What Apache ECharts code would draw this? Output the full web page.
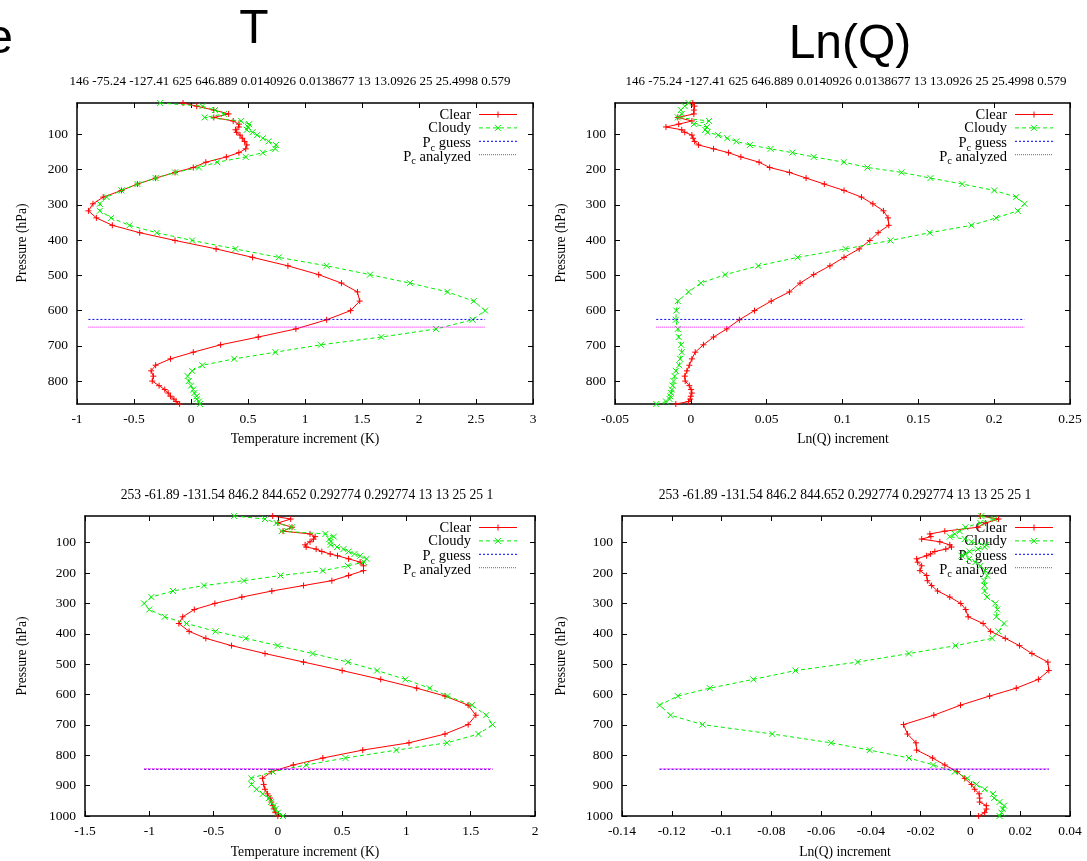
<!DOCTYPE html>
<html>
<head>
<meta charset="utf-8">
<script src="https://cdn.jsdelivr.net/npm/echarts@6/dist/echarts.min.js"></script>
<style>
html, body { margin: 0; padding: 0; background: #fff; }
#chart { width: 1087px; height: 861px; }
</style>
</head>
<body>
<div id="chart"></div>
<script>
// ---- Profile 1 (146, lat -75.24): model levels (hPa) and increments ----
const presTop = [11, 20, 31, 42, 52, 62, 71, 79, 87, 94, 102, 111, 120, 130, 141, 152, 164, 179, 194, 208,
  224, 241, 259, 278, 297, 317, 337, 358, 379, 401, 425, 449, 473, 498, 522, 547, 573, 600, 626, 652,
  675, 697, 718, 737, 755, 771, 786, 800, 813, 824, 834, 843, 851, 858, 865];
const tClearTop = [-0.07, 0.05, 0.20, 0.33, 0.20, 0.37, 0.42, 0.42, 0.39, 0.40, 0.43, 0.45, 0.47, 0.49, 0.48,
  0.42, 0.31, 0.13, 0.02, -0.14, -0.31, -0.47, -0.61, -0.77, -0.86, -0.90, -0.83, -0.69, -0.45, -0.14,
  0.22, 0.54, 0.85, 1.12, 1.32, 1.46, 1.48, 1.40, 1.19, 0.92, 0.59, 0.26, 0.02, -0.18, -0.31,
  -0.35, -0.33, -0.34, -0.28, -0.23, -0.20, -0.18, -0.15, -0.13, -0.10];
const tCloudyTop = [-0.27, 0.10, 0.21, 0.29, 0.12, 0.44, 0.51, 0.50, 0.49, 0.54, 0.58, 0.63, 0.68, 0.745, 0.74,
  0.63, 0.48, 0.23, 0.07, -0.14, -0.31, -0.47, -0.61, -0.74, -0.80, -0.80, -0.70, -0.54, -0.30, 0.01,
  0.39, 0.77, 1.19, 1.57, 1.92, 2.25, 2.48, 2.58, 2.47, 2.15, 1.67, 1.14, 0.74, 0.38, 0.10,
  0.01, -0.03, -0.02, 0.0, 0.02, 0.03, 0.05, 0.05, 0.07, 0.08];
const qClearTop = [0.0013, 0.0024, 0.002, 0.002, -0.0086, 0.0007, -0.008, -0.0164, -0.006, -0.004,
  0.0007, 0.0015, 0.0025, 0.005, 0.015, 0.0248, 0.033, 0.045, 0.052, 0.065,
  0.076, 0.088, 0.101, 0.1125, 0.12, 0.127, 0.130, 0.1305, 0.1235, 0.118,
  0.111, 0.101, 0.0917, 0.081, 0.072, 0.065, 0.053, 0.042, 0.032, 0.0237,
  0.015, 0.0083, 0.0029, 0.0007, -0.001, -0.0026, -0.004, -0.0037, -0.001, 0.0002,
  0.0007, 0.0, -0.0004, -0.0015, -0.0099];
const qCloudyTop = [-0.0015, -0.004, -0.0066, -0.006, -0.0086, 0.012, 0.002, 0.0106, 0.0095, 0.011,
  0.018, 0.024, 0.03, 0.039, 0.0526, 0.067, 0.081, 0.101, 0.1165, 0.139,
  0.158, 0.179, 0.200, 0.2145, 0.220, 0.2156, 0.2013, 0.185, 0.1575, 0.1316,
  0.102, 0.0704, 0.0445, 0.0226, 0.0066, -0.0015, -0.0086, -0.0096, -0.0099, -0.0086,
  -0.008, -0.0064, -0.006, -0.007, -0.0077, -0.0099, -0.0107, -0.0114, -0.012, -0.0125,
  -0.013, -0.0135, -0.014, -0.0164, -0.0228];
const pcGuessTop = 625;
const pcAnalyzedTop = 646.889;

// ---- Profile 2 (253, lat -61.89) ----
const presBot = [12, 22, 35, 49, 62, 71, 80, 88, 97, 107, 114, 121, 129, 137, 143, 153, 164, 176, 192, 208,
  225, 241, 259, 279, 300, 320, 344, 366, 392, 415, 439, 465, 493, 521, 550, 579, 605, 635, 668, 699,
  730, 759, 783, 809, 832, 854, 876, 896, 912, 927, 941, 954, 966, 977, 989, 1000];
const tClearBot = [-0.04, 0.10, 0.0, 0.11, 0.04, 0.25, 0.29, 0.277, 0.25, 0.212, 0.22, 0.298, 0.342, 0.407, 0.464,
  0.55, 0.64, 0.666, 0.666, 0.55, 0.42, 0.2, -0.047, -0.28, -0.49, -0.65, -0.74, -0.77, -0.69, -0.56,
  -0.36, -0.10, 0.20, 0.50, 0.80, 1.08, 1.30, 1.48, 1.54, 1.48, 1.30, 1.02, 0.66, 0.35, 0.12,
  -0.05, -0.12, -0.11, -0.10, -0.08, -0.06, -0.05, -0.04, -0.03, -0.02, 0.0];
const tCloudyBot = [-0.34, -0.10, -0.01, 0.11, 0.03, 0.37, 0.435, 0.40, 0.41, 0.41, 0.46, 0.51, 0.55, 0.596, 0.64,
  0.69, 0.67, 0.544, 0.35, 0.02, -0.264, -0.575, -0.816, -0.984, -1.04, -1.0, -0.88, -0.71, -0.484, -0.25,
  0.0, 0.272, 0.544, 0.772, 0.992, 1.18, 1.32, 1.51, 1.62, 1.67, 1.56, 1.316, 0.922, 0.526, 0.22,
  -0.04, -0.207, -0.205, -0.166, -0.117, -0.07, -0.052, -0.031, -0.018, 0.0, 0.04];
const qClearBot = [0.004, 0.0113, 0.006, 0.003, -0.0103, -0.0163, -0.0159, -0.0196, -0.0123, -0.0083,
  -0.0076, -0.0099, -0.0143, -0.016, -0.0176, -0.0216, -0.0212, -0.0196, -0.0203, -0.0176,
  -0.0173, -0.0156, -0.0132, -0.0083, -0.0039, -0.0019, -0.0009, 0.0051, 0.0081, 0.014,
  0.0197, 0.0247, 0.0311, 0.0315, 0.0273, 0.0184, 0.0077, -0.004, -0.0147, -0.0269,
  -0.0253, -0.0219, -0.0216, -0.0152, -0.0103, -0.0053, -0.0023, 0.0004, 0.0017, 0.0035,
  0.0037, 0.0037, 0.0064, 0.0064, 0.0057, 0.0033];
const qCloudyBot = [0.0044, 0.0097, 0.004, -0.002, -0.0043, -0.0063, -0.0083, -0.0023, 0.0004, 0.0064,
  0.0057, 0.003, -0.0003, -0.002, -0.0036, -0.0005, 0.002, 0.004, 0.006, 0.0067,
  0.0055, 0.0057, 0.0057, 0.0067, 0.010, 0.0108, 0.0104, 0.0135, 0.0113, 0.0087,
  -0.006, -0.0247, -0.0453, -0.0703, -0.0872, -0.1047, -0.1176, -0.1249, -0.1205, -0.1076,
  -0.0796, -0.056, -0.0405, -0.0247, -0.0149, -0.0063, -0.0013, 0.0024, 0.0057, 0.0091,
  0.0095, 0.0117, 0.0135, 0.013, 0.0125, 0.0117];
const pcGuessBot = 846.2;
const pcAnalyzedBot = 844.652;

// ---- Text ----
const headTop = '146 -75.24 -127.41 625 646.889 0.0140926 0.0138677 13 13.0926 25 25.4998 0.579';
const headBot = '253 -61.89 -131.54 846.2 844.652 0.292774 0.292774 13 13 25 25 1';
const yTicksTop = [100, 200, 300, 400, 500, 600, 700, 800];
const yTicksBot = [100, 200, 300, 400, 500, 600, 700, 800, 900, 1000];
const seriesNames = ['Clear', 'Cloudy', 'Pc guess', 'Pc analyzed'];

const SERIF = "'Liberation Serif', 'Times New Roman', serif";
const SANS = "'Liberation Sans', Arial, sans-serif";
const RED = '#ff0000', GREEN = '#00ee00', BLUE = '#0000ff', MAGENTA = '#ff00ff';
const DASH_CLOUDY = [4, 3], DASH_GUESS = [2, 2], DASH_ANALYZED = [1, 1];
const plusPath = 'path://M0 4L8 4M4 0L4 8';
const crossPath = 'path://M0 0L8 8M8 0L0 8';

const panels = [
  { grid: { left: 77, top: 103, width: 456, height: 301 }, pres: presTop, clear: tClearTop, cloudy: tCloudyTop,
    guess: pcGuessTop, analyzed: pcAnalyzedTop, xMin: -1, xMax: 3, xStep: 0.5, yTicks: yTicksTop },
  { grid: { left: 615, top: 103, width: 455, height: 301 }, pres: presTop, clear: qClearTop, cloudy: qCloudyTop,
    guess: pcGuessTop, analyzed: pcAnalyzedTop, xMin: -0.05, xMax: 0.25, xStep: 0.05, yTicks: yTicksTop },
  { grid: { left: 85, top: 516, width: 450, height: 300 }, pres: presBot, clear: tClearBot, cloudy: tCloudyBot,
    guess: pcGuessBot, analyzed: pcAnalyzedBot, xMin: -1.5, xMax: 2, xStep: 0.5, yTicks: yTicksBot },
  { grid: { left: 622, top: 516, width: 448, height: 300 }, pres: presBot, clear: qClearBot, cloudy: qCloudyBot,
    guess: pcGuessBot, analyzed: pcAnalyzedBot, xMin: -0.14, xMax: 0.04, xStep: 0.02, yTicks: yTicksBot }
];

const frameLine = { show: true, onZero: false, lineStyle: { color: '#000', width: 1.5 } };
const tickStyle = { color: '#000', width: 1 };
const labelFont = { color: '#000', fontFamily: SERIF, fontSize: 13.5 };
const plain = v => String(v);

const grids = [], xAxes = [], yAxes = [], series = [];
panels.forEach((p, i) => {
  grids.push(Object.assign({ outerBoundsMode: 'none', containLabel: false }, p.grid));
  ['bottom', 'top'].forEach(pos => xAxes.push({
    gridIndex: i, type: 'value', position: pos, min: p.xMin, max: p.xMax, interval: p.xStep,
    axisLine: frameLine, axisTick: { show: true, inside: true, length: 5, lineStyle: tickStyle },
    axisLabel: Object.assign({ show: pos === 'bottom', margin: 8 }, labelFont),
    splitLine: { show: false }
  }));
  const yMin = Math.min(...p.pres), yMax = Math.max(...p.pres);
  ['left', 'right'].forEach(pos => yAxes.push({
    gridIndex: i, type: 'value', position: pos, inverse: true, min: yMin, max: yMax,
    axisLine: frameLine,
    axisTick: { show: true, inside: true, length: 5, lineStyle: tickStyle, customValues: p.yTicks },
    axisLabel: Object.assign({ show: pos === 'left', margin: 9, customValues: p.yTicks, formatter: plain }, labelFont),
    splitLine: { show: false }
  }));
  const common = { xAxisIndex: 2 * i, yAxisIndex: 2 * i, silent: true, animation: false, emphasis: { disabled: true } };
  const profile = (vals, name, color, dash, symbol, z) => Object.assign({
    type: 'line', name, data: vals.map((v, k) => [v, p.pres[k]]),
    symbol, symbolSize: 6, showAllSymbol: true, z,
    lineStyle: { color, width: 1, type: dash },
    itemStyle: { color, borderColor: color, borderWidth: 1 }
  }, common);
  series.push(profile(p.clear, seriesNames[0], RED, 'solid', plusPath, 3));
  series.push(profile(p.cloudy, seriesNames[1], GREEN, DASH_CLOUDY, crossPath, 4));
  const all = p.clear.concat(p.cloudy);
  const lo = Math.min(...all), hi = Math.max(...all);
  const level = (pc, name, color, dash) => Object.assign({
    type: 'line', name, data: [[lo, pc], [hi, pc]], symbol: 'none', z: 5,
    lineStyle: { color, width: 1, type: dash }
  }, common);
  series.push(level(p.guess, seriesNames[2], BLUE, DASH_GUESS));
  series.push(level(p.analyzed, seriesNames[3], MAGENTA, DASH_ANALYZED));
});

// ---- Titles, axis names and keys ----
const g = [];
const txt = (x, y, text, opt) => g.push(Object.assign({ type: 'text', x, y, silent: true, z: 1,
  style: Object.assign({ text, fill: '#000', align: 'center', verticalAlign: 'middle' }, opt.style || {}) },
  opt.rotation ? { rotation: opt.rotation } : {}));

txt(13, 40, 'e', { style: { align: 'right', font: '48px ' + SANS } });
txt(254, 30, 'T', { style: { font: '48px ' + SANS } });
txt(850, 45, 'Ln(Q)', { style: { font: '48px ' + SANS } });

txt(290, 82, headTop, { style: { font: '13px ' + SERIF } });
txt(846, 82, headTop, { style: { font: '13px ' + SERIF } });
txt(307, 495, headBot, { style: { font: '13.6px ' + SERIF } });
txt(845, 495, headBot, { style: { font: '13.6px ' + SERIF } });

txt(305, 439, 'Temperature increment (K)', { style: { font: '13.6px ' + SERIF } });
txt(843, 439, 'Ln(Q) increment', { style: { font: '13.6px ' + SERIF } });
txt(305, 852, 'Temperature increment (K)', { style: { font: '13.6px ' + SERIF } });
txt(845, 852, 'Ln(Q) increment', { style: { font: '13.6px ' + SERIF } });
[[22, 243], [561, 243], [22, 656], [561, 656]].forEach(([x, y]) =>
  txt(x, y, 'Pressure (hPa)', { rotation: Math.PI / 2, style: { font: '13.6px ' + SERIF } }));

const keyRich = {
  n: { fontFamily: SERIF, fontSize: 14.5, lineHeight: 14, verticalAlign: 'top', fill: '#000' },
  s: { fontFamily: SERIF, fontSize: 10.5, lineHeight: 10, verticalAlign: 'top', padding: [7, 0, 0, 0], fill: '#000' }
};
const keyLabels = ['{n|Clear}', '{n|Cloudy}', '{n|P}{s|c}{n| guess}', '{n|P}{s|c}{n| analyzed}'];
const keyStyles = [
  { color: RED, dash: null, mark: 'plus' },
  { color: GREEN, dash: DASH_CLOUDY, mark: 'cross' },
  { color: BLUE, dash: DASH_GUESS, mark: null },
  { color: MAGENTA, dash: DASH_ANALYZED, mark: null }
];
function key(xr, y0) {
  keyLabels.forEach((label, k) => {
    const y = y0 + k * 13.4, st = keyStyles[k];
    g.push({ type: 'text', x: xr, y: k < 2 ? y : y + 1.5, silent: true, z: 1,
      style: { text: label, rich: keyRich, align: 'right', verticalAlign: 'middle' } });
    g.push({ type: 'line', silent: true, z: 1, shape: { x1: xr + 8, y1: y, x2: xr + 46, y2: y },
      style: { stroke: st.color, lineWidth: 1, lineDash: st.dash } });
    const cx = xr + 27, h = 3;
    if (st.mark === 'plus') {
      g.push({ type: 'line', silent: true, z: 1, shape: { x1: cx, y1: y - h, x2: cx, y2: y + h }, style: { stroke: st.color, lineWidth: 1 } });
    } else if (st.mark === 'cross') {
      g.push({ type: 'line', silent: true, z: 1, shape: { x1: cx - h, y1: y - h, x2: cx + h, y2: y + h }, style: { stroke: st.color, lineWidth: 1 } });
      g.push({ type: 'line', silent: true, z: 1, shape: { x1: cx - h, y1: y + h, x2: cx + h, y2: y - h }, style: { stroke: st.color, lineWidth: 1 } });
    }
  });
}
key(471, 114.5);
key(1007, 114.5);
key(471, 527.5);
key(1007, 527.5);

const chart = echarts.init(document.getElementById('chart'), null, { renderer: 'canvas' });
chart.setOption({
  backgroundColor: '#fff',
  animation: false,
  grid: grids,
  xAxis: xAxes,
  yAxis: yAxes,
  series: series,
  graphic: { elements: g }
});
</script>
</body>
</html>
